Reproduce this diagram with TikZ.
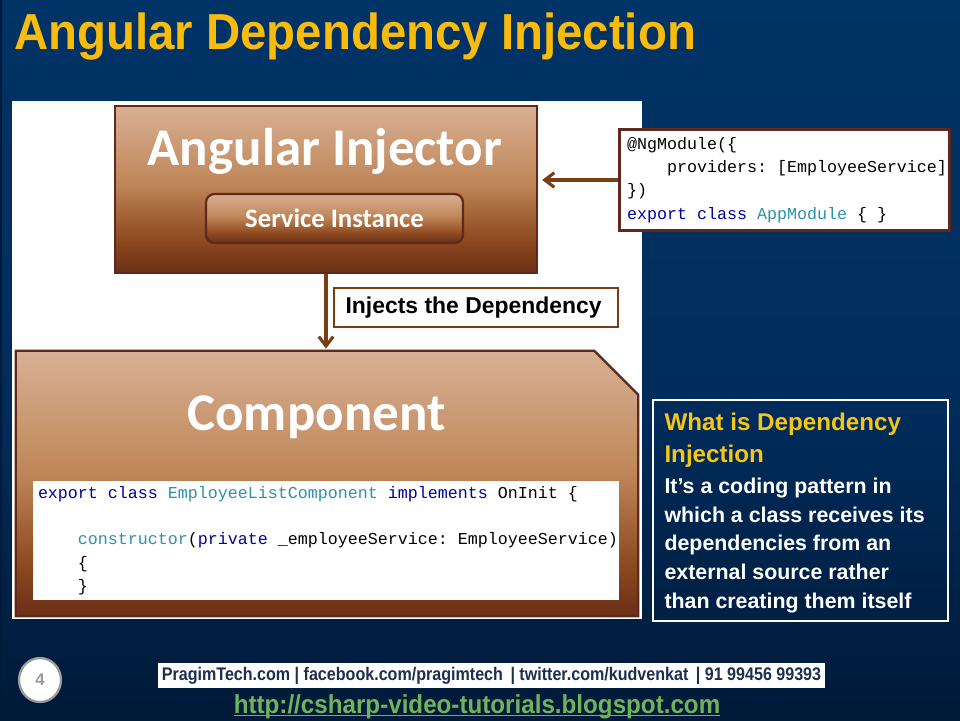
\documentclass[tikz,border=0pt]{standalone}
\usepackage{fontspec}
\setmainfont{Liberation Sans}
\setmonofont{Liberation Mono}
\newfontfamily\titlefont[FakeStretch=0.936]{Liberation Sans}
\newfontfamily\contactfont[FakeStretch=0.88]{Liberation Sans}
\newfontfamily\linkfont[FakeStretch=0.93]{Liberation Sans}
\newfontfamily\boxfont{Carlito}
\usepackage{tikz}
\usetikzlibrary{shapes,shapes.geometric,arrows.meta,positioning,calc}

\definecolor{edgebrown}{HTML}{5E2A1E}
\definecolor{linebrown}{HTML}{7A3E14}
\definecolor{titlegold}{HTML}{F9BC0C}
\definecolor{infogold}{HTML}{F5C518}
\definecolor{kwblue}{HTML}{00009B}
\definecolor{typeteal}{HTML}{2B91AF}
\definecolor{footnavy}{HTML}{1C2F4F}
\definecolor{linkgreen}{HTML}{6FB35C}
\definecolor{numgray}{HTML}{9A9A9A}
\definecolor{brownA}{HTML}{D8B094}
\definecolor{brownB}{HTML}{BF8658}
\definecolor{brownC}{HTML}{8E4A20}
\definecolor{brownD}{HTML}{6A2F16}
\definecolor{slideA}{HTML}{003366}
\definecolor{slideB}{HTML}{002C5C}
\definecolor{slideC}{HTML}{001A38}

\pgfdeclareverticalshading{brownfade}{100bp}{color(0bp)=(brownD); color(25bp)=(brownD);
  color(35bp)=(brownC); color(52bp)=(brownB); color(75bp)=(brownA); color(100bp)=(brownA)}
\pgfdeclareverticalshading{slidefade}{100bp}{color(0bp)=(slideC); color(25bp)=(slideC);
  color(47bp)=(slideB); color(75bp)=(slideA); color(100bp)=(slideA)}
\newcommand{\plainspace}{\spaceskip=0pt\xspaceskip=0pt\relax}
\newcommand{\kw}[1]{\textcolor{kwblue}{#1}}
\newcommand{\tp}[1]{\textcolor{typeteal}{#1}}
\newcommand{\lowline}[1]{\setbox0\hbox{#1}\rlap{\rule[-2pt]{\wd0}{0.8pt}}\box0}

\begin{document}
\begin{tikzpicture}
        % Define styles
        \tikzset{
            block/.style={draw=edgebrown, line width=1.6pt, shading=brownfade, inner sep=0pt},
            code/.style={fill=white, rectangle, align=left, inner ysep=0pt, text=black,
                font=\fontsize{11.85}{16.5}\selectfont\ttfamily},
            arrow/.style={-{Straight Barb[length=2.4mm,width=3.6mm,line width=2.2pt]}, draw=linebrown, line width=2.4pt},
            heading/.style={text=white, font=\boxfont\bfseries\fontsize{37.7}{42}\selectfont, inner sep=0pt}
        }
        \useasboundingbox (0,0) rectangle (24,18);

        % Slide background
        \path[shading=slidefade] (0,0) rectangle (24,18);
        \fill[slideC] (0,0) rectangle (0.06,18);
        \node[fill=white, minimum width=15.75cm, minimum height=12.95cm, inner sep=0pt] (panel) at (8.175,9) {};

        % Place nodes
        \node[anchor=base west, text=titlegold, font=\titlefont\bfseries\fontsize{36}{40}\selectfont, inner sep=0pt] (title) at (0.35,16.75) {Angular Dependency Injection};
        \node[block, rectangle, minimum width=10.55cm, minimum height=4.175cm] (injector) at (8.15,13.2625) {};
        \node[heading] (injectorname) at (8.125,14.225) {Angular Injector};
        \node[block, rectangle, rounded corners=6pt, minimum width=6.425cm, minimum height=1.225cm,
            text=white, font=\boxfont\bfseries\fontsize{19}{22}\selectfont] (service) at (8.3625,12.5375) {Service Instance};
        \node[minimum width=15.55cm, minimum height=6.625cm, inner sep=0pt] (component) at (8.175,5.9125) {};
        \path[block] (component.south west) -- (component.north west)
            -- ($(component.north east)+(-1.1,0)$) -- ($(component.north east)+(0,-1.1)$)
            -- (component.south east) -- cycle;
        \node[heading] (componentname) at (7.91,7.575) {Component};

        \node[code, minimum width=14.65cm, minimum height=2.975cm, text width=14.4cm, inner xsep=0.125cm] (componentcode) at (8.15,4.4875) {\plainspace
            \kw{export class} \tp{EmployeeListComponent} \kw{implements} OnInit \{\\
            \strut\\
            \mbox{\phantom{xxxx}\tp{constructor}(\kw{private} \_employeeService: EmployeeService)}\\
            \phantom{xxxx}\{\\
            \phantom{xxxx}\}};
        \node[code, draw=edgebrown, line width=2.2pt, minimum width=8.25cm, minimum height=2.525cm, text width=7.87cm, inner xsep=0.19cm] (ngmodule) at (19.6125,13.5) {\plainspace
            @NgModule(\{\\
            \mbox{\phantom{xxxx}providers: [EmployeeService]}\\
            \})\\
            \kw{export class} \tp{AppModule} \{ \}};
        \node[draw=linebrown, fill=white, line width=2pt, minimum width=7.1cm, minimum height=0.975cm, inner sep=0pt,
            font=\bfseries\fontsize{16.3}{18}\selectfont] (injects) at (11.9,10.3125) {\raisebox{-0.06cm}{\kern-0.12cm Injects the Dependency}};
        \node[draw=white, line width=2pt, minimum width=7.375cm, minimum height=5.525cm, text width=6.8cm, align=left, inner sep=0pt,
            text=white, font=\bfseries\fontsize{15.2}{20.4}\selectfont] (info) at (20.0125,5.2375) {\plainspace
            {\color{infogold}\fontsize{17.2}{22.8}\selectfont \rule{0pt}{16pt}What is Dependency\\Injection\\[1.2pt]}
            It's a coding pattern in\\
            which a class receives its\\
            dependencies from an\\
            external source rather\\
            than creating them itself};

        % Footer
        \node[ellipse, draw=numgray, fill=white, line width=1.6pt, minimum width=1.05cm, minimum height=1.1cm, inner sep=0pt,
            text=numgray, font=\bfseries\fontsize{12}{14}\selectfont] (pagenum) at (1,1) {4};
        \node[fill=white, minimum width=16.675cm, minimum height=0.625cm, inner sep=0pt, text=footnavy,
            font=\contactfont\bfseries\fontsize{13}{15}\selectfont] (contact) at (12.2875,1.1125) {PragimTech.com | facebook.com/pragimtech \,| twitter.com/kudvenkat \,| 91 99456 99393};
        \node[anchor=base, text=linkgreen, inner sep=0pt, font=\linkfont\bfseries\fontsize{18.5}{21}\selectfont] (link) at (11.925,0.17) {\lowline{http://csharp-video-tutorials.blogspot.com}};

        % Draw arrows
        \draw[arrow, shorten >=0.1cm] (ngmodule.west) -- (ngmodule.west -| injector.east);
        \draw[arrow, shorten >=0.05cm] (injector.south) -- (injector.south |- component.north);
\end{tikzpicture}
\end{document}
